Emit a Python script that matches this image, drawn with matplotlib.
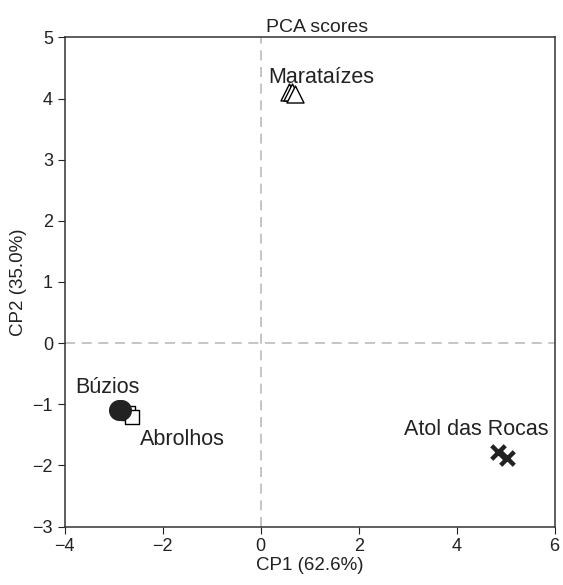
import matplotlib.pyplot as plt

plt.rcParams['font.family'] = ['Liberation Sans', 'DejaVu Sans']

# scores por local (replicas)
buzios_x = [-2.9, -2.86]
buzios_y = [-1.10, -1.10]
abrolhos_x = [-2.71, -2.63]
abrolhos_y = [-1.15, -1.21]
marataizes_x = [0.57, 0.63, 0.71]
marataizes_y = [4.10, 4.10, 4.07]
atol_x = [4.84, 5.02]
atol_y = [-1.78, -1.88]

fig = plt.figure(figsize=(5.63, 5.85), dpi=100)
ax = fig.add_axes([0.115, 0.10, 0.87, 0.836])

ax.axhline(0, color='#bbbbbb', linestyle=(0, (6, 4)), linewidth=1.2, zorder=0)
ax.axvline(0, color='#bbbbbb', linestyle=(0, (6, 4)), linewidth=1.2, zorder=0)

ax.scatter(abrolhos_x, abrolhos_y, marker='s', s=110, facecolor='white', edgecolor='black', linewidth=1)
ax.scatter(buzios_x, buzios_y, marker='o', s=200, color='#222222')
ax.scatter(marataizes_x, marataizes_y, marker='^', s=150, facecolor='white', edgecolor='black', linewidth=1)
ax.scatter(atol_x, atol_y, marker='x', s=95, color='#222222', linewidth=3.2)

ax.text(-3.78, -0.82, 'Búzios', fontsize=15.5, color='#222222')
ax.text(-2.47, -1.67, 'Abrolhos', fontsize=15.5, color='#222222')
ax.text(0.15, 4.26, 'Marataízes', fontsize=15.5, color='#222222')
ax.text(2.92, -1.51, 'Atol das Rocas', fontsize=15.5, color='#222222')

ax.set_xlim(-4, 6)
ax.set_ylim(-3, 5)
ax.set_xticks([-4, -2, 0, 2, 4, 6])
ax.set_xticklabels(['\u22124', '\u22122', '0', '2', '4', '6'])
ax.set_yticks(range(-3, 6))
ax.set_yticklabels(['\u22123', '\u22122', '\u22121', '0', '1', '2', '3', '4', '5'])
ax.tick_params(labelsize=13, direction='out', length=5, colors='#222222')
for sp in ax.spines.values():
    sp.set_color('#333333')
    sp.set_linewidth(1.1)

ax.set_xlabel('CP1 (62.6%)', fontsize=13.5, labelpad=1, color='#222222')
ax.set_ylabel('CP2 (35.0%)', fontsize=13.5, labelpad=4, color='#222222')
ax.set_title('PCA scores', fontsize=14, pad=4, color='#222222', x=0.515)

fig.savefig('out.png')
